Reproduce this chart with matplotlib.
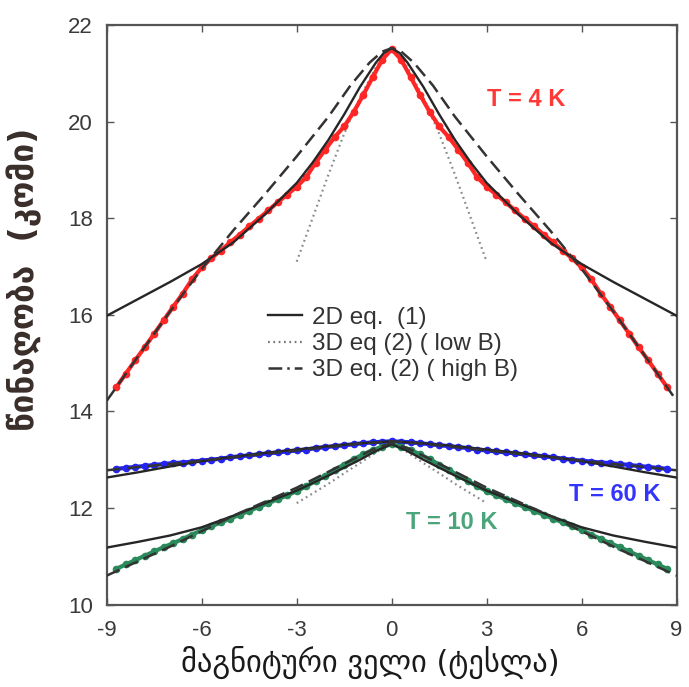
import numpy as np
import matplotlib
matplotlib.use("Agg")
import matplotlib.pyplot as plt
from matplotlib.lines import Line2D

plt.rcParams['font.family'] = ['Liberation Sans', 'DejaVu Sans']
plt.rcParams['axes.unicode_minus'] = False

# ---- measured data (x grid in tesla) ----
x_data = np.round(np.arange(-8.7, 8.71, 0.3), 1)

r4_left = [14.50, 14.78, 15.06, 15.33, 15.61, 15.89, 16.17, 16.44, 16.74, 16.98,
           17.17, 17.33, 17.50, 17.66, 17.83, 17.99, 18.16, 18.33, 18.49, 18.65,
           18.85, 19.15, 19.42, 19.68, 19.90, 20.20, 20.55, 20.92, 21.28]
r4_peak = [21.50]
r60_left = [12.81, 12.83, 12.85, 12.87, 12.89, 12.91, 12.93, 12.94, 12.96, 12.98,
            13.00, 13.02, 13.05, 13.07, 13.09, 13.11, 13.13, 13.15, 13.17, 13.19,
            13.21, 13.24, 13.26, 13.28, 13.30, 13.32, 13.34, 13.36, 13.37]
r60_peak = [13.38]
r10_left = [10.74, 10.83, 10.92, 11.01, 11.10, 11.19, 11.27, 11.36, 11.45, 11.54,
            11.62, 11.70, 11.78, 11.86, 11.94, 12.02, 12.10, 12.18, 12.26, 12.35,
            12.45, 12.56, 12.67, 12.79, 12.90, 13.01, 13.11, 13.20, 13.27]
r10_peak = [13.32]

r4 = r4_left + r4_peak + r4_left[::-1]
r60 = r60_left + r60_peak + r60_left[::-1]
r10 = r10_left + r10_peak + r10_left[::-1]

# ---- fit curves ----
x_fit2d_4 = [-9, -8, -7, -6, -5, -4, -3, -2.5, -2, -1.5, -1, -0.5, -0.25, 0,
             0.25, 0.5, 1, 1.5, 2, 2.5, 3, 4, 5, 6, 7, 8, 9]
y_fit2d_4 = [15.98, 16.33, 16.68, 17.05, 17.50, 18.08, 18.73, 19.15, 19.62, 20.15, 20.72, 21.22, 21.42, 21.52,
             21.42, 21.22, 20.72, 20.15, 19.62, 19.15, 18.73, 18.08, 17.50, 17.05, 16.68, 16.33, 15.98]

x_fithi_4 = [-9, -8.7, -8, -7, -6, -5, -4, -3, -2, -1.3, -0.7, -0.3, 0,
             0.3, 0.7, 1.3, 2, 3, 4, 5, 6, 7, 8, 8.7, 9]
y_fithi_4 = [14.22, 14.50, 15.15, 16.07, 16.95, 17.75, 18.50, 19.28, 20.10, 20.75, 21.22, 21.45, 21.52,
             21.45, 21.22, 20.75, 20.10, 19.28, 18.50, 17.75, 16.95, 16.07, 15.15, 14.50, 14.22]

x_fitlo_4 = [-3, -2.5, -2, -1.5, -1, -0.5, -0.2, 0, 0.2, 0.5, 1, 1.5, 2, 2.5, 3]
y_fitlo_4 = [17.10, 18.00, 18.90, 19.75, 20.50, 21.12, 21.40, 21.50, 21.40, 21.12, 20.50, 19.75, 18.90, 18.00, 17.10]

x_fit60 = [-9, -8, -7, -6, -5, -4, -3, -2, -1, 0, 1, 2, 3, 4, 5, 6, 7, 8, 9]
y_fit2d_60 = [12.63, 12.74, 12.86, 12.97, 13.06, 13.14, 13.21, 13.28, 13.34, 13.38,
              13.34, 13.28, 13.21, 13.14, 13.06, 12.97, 12.86, 12.74, 12.63]
y_fithi_60 = [12.78, 12.85, 12.91, 12.98, 13.05, 13.12, 13.19, 13.26, 13.33, 13.38,
              13.33, 13.26, 13.19, 13.12, 13.05, 12.98, 12.91, 12.85, 12.78]

x_fit10 = [-9, -8, -7, -6, -5, -4, -3, -2, -1, -0.5, 0, 0.5, 1, 2, 3, 4, 5, 6, 7, 8, 9]
y_fit2d_10 = [11.18, 11.30, 11.43, 11.60, 11.84, 12.10, 12.36, 12.67, 13.00, 13.18, 13.32,
              13.18, 13.00, 12.67, 12.36, 12.10, 11.84, 11.60, 11.43, 11.30, 11.18]
y_fithi_10 = [10.60, 10.90, 11.20, 11.52, 11.84, 12.13, 12.42, 12.75, 13.08, 13.24, 13.34,
              13.24, 13.08, 12.75, 12.42, 12.13, 11.84, 11.52, 11.20, 10.90, 10.60]
x_fitlo_10 = [-3, -2.5, -2, -1.5, -1, -0.5, 0, 0.5, 1, 1.5, 2, 2.5, 3]
y_fitlo_10 = [12.10, 12.30, 12.50, 12.72, 12.93, 13.15, 13.32, 13.15, 12.93, 12.72, 12.50, 12.30, 12.10]

xticks = [-9, -6, -3, 0, 3, 6, 9]
yticks = [10, 12, 14, 16, 18, 20, 22]
legend_labels = ["2D eq.  (1)", "3D eq (2) ( low B)", "3D eq. (2) ( high B)"]
xlabel = "მაგნიტური ველი (ტესლა)"
ylabel = "წინაღობა  (კომი)"

# ---- figure ----
fig = plt.figure(figsize=(6.89, 6.87), dpi=100)
ax = fig.add_axes([0.155, 0.12, 0.827, 0.8436])

c_red, c_blue, c_green = "#ff2626", "#2424f0", "#2a8a5c"
for y, c in [(r4, c_red), (r60, c_blue), (r10, c_green)]:
    ax.plot(x_data, y, color=c, lw=3.0, zorder=2)
    ax.plot(x_data, y, 'o', color=c, ms=5.5, mec='none', zorder=2)

solid_kw = dict(color="#262626", lw=1.7, zorder=3)
dash_kw = dict(color="#333333", lw=1.8, linestyle=(0, (5.5, 2.6)), zorder=3)
dot_kw = dict(color="#8a8a8a", lw=1.6, linestyle=(0, (0.8, 1.6)), zorder=1)

ax.plot(x_fitlo_4, y_fitlo_4, **dot_kw)
ax.plot(x_fitlo_10, y_fitlo_10, **dot_kw)
ax.plot(x_fit2d_4, y_fit2d_4, **solid_kw)
ax.plot(x_fithi_4, y_fithi_4, **dash_kw)
ax.plot(x_fit60, y_fit2d_60, **solid_kw)
ax.plot(x_fit60, y_fithi_60, **dash_kw)
ax.plot(x_fit10, y_fit2d_10, **solid_kw)
ax.plot(x_fit10, y_fithi_10, **dash_kw)

ax.set_xlim(-9, 9)
ax.set_ylim(10, 22)
ax.set_xticks(xticks)
ax.set_yticks(yticks)
ax.tick_params(direction='in', length=5, width=1, colors="#555555",
               top=True, right=True, labelsize=16, labelcolor="#3a3a3a")
ax.tick_params(axis='x', pad=11)
ax.tick_params(axis='y', pad=10)
for s in ax.spines.values():
    s.set_color("#555555")
    s.set_linewidth(1.6)

handles = [Line2D([], [], **{k: v for k, v in solid_kw.items() if k != 'zorder'}),
           Line2D([], [], color="#777777", lw=1.6, linestyle=(0, (0.8, 1.6))),
           Line2D([], [], color="#333333", lw=1.8, linestyle=(0, (5.5, 2.0, 1, 2.0)))]
leg = ax.legend(handles, legend_labels, loc='upper left', bbox_to_anchor=(0.283, 0.514),
                frameon=False, fontsize=17.5, handlelength=1.4, handletextpad=0.4,
                labelspacing=0.18, borderpad=0, borderaxespad=0)
for t in leg.get_texts():
    t.set_color("#333333")

ax.text(4.25, 20.45, "T = 4 K", color="#ff3838", fontsize=17, fontweight='bold', ha='center', va='center')
ax.text(7.05, 12.27, "T = 60 K", color="#3434ff", fontsize=17, fontweight='bold', ha='center', va='center')
ax.text(1.9, 11.69, "T = 10 K", color="#4aa57a", fontsize=17, fontweight='bold', ha='center', va='center')

ax.set_xlabel(xlabel, fontsize=22, color="#1a1a1a", family=['DejaVu Sans'], va='center')
ax.xaxis.set_label_coords(0.462, -0.1)
ax.set_ylabel(ylabel, fontsize=24, color="#3a2e2a", family=['DejaVu Sans'],
              fontweight='bold', va='center')
ax.yaxis.set_label_coords(-0.145, 0.562)

fig.savefig("out.png", dpi=100)
